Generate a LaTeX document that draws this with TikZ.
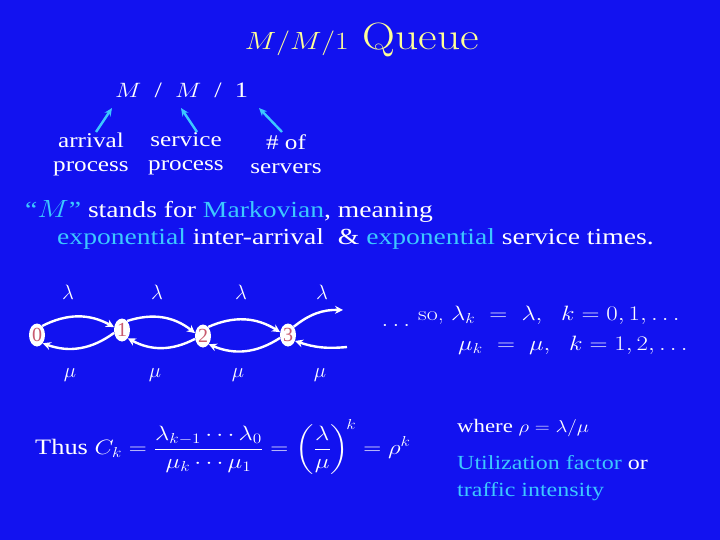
\documentclass[tikz,border=0pt]{standalone}
\usepackage{amsmath}
\usepackage{graphicx}
\usepackage{fontspec}
\setmainfont{Liberation Serif}
\newfontfamily\lmfont{Latin Modern Roman}
\newcommand\sx[1]{\scalebox{1.2}[1]{#1}}
\usetikzlibrary{shapes.geometric,arrows.meta}
\definecolor{bg}{RGB}{18,18,240}
\definecolor{cy}{RGB}{60,200,255}
\definecolor{ttl}{RGB}{255,255,150}
\definecolor{st}{RGB}{200,90,110}
\begin{document}
\begin{tikzpicture}[x=1pt,y=-1pt,
  txt/.style={text=white,inner sep=0pt},
  state/.style={ellipse,fill=white,text=st,minimum width=16pt,minimum height=23pt,inner sep=0pt,font=\fontsize{20}{20}\selectfont},
  tr/.style={white,line width=2.4pt,-{Stealth[length=8pt,width=8pt]}},
  ca/.style={cy,line width=2.4pt,-{Stealth[length=8pt,width=7pt]}}]
\fill[bg] (0,0) rectangle (720,540);
\useasboundingbox (0,0) rectangle (720,540);
\node[txt,text=ttl,font=\lmfont\fontsize{38}{38}\selectfont] (title) at (362,40) {\sx{$M/M/1$ Queue}};
\node[txt,font=\fontsize{22}{22}\selectfont,anchor=west] (mm1) at (115,90) {\sx{$M$\enspace/\enspace$M$\enspace/\enspace1}};
\coordinate (m1) at (112,108); \coordinate (m2) at (181,108); \coordinate (m3) at (259,108);
\node[txt,font=\fontsize{21}{24}\selectfont,align=center] (arr) at (91,154) {\sx{arrival}\\\sx{process}};
\node[txt,font=\fontsize{21}{24}\selectfont,align=center] (srv) at (186,154) {\sx{service}\\\sx{process}};
\node[txt,font=\fontsize{21}{24}\selectfont,align=center] (nsv) at (286,154) {\sx{\# of}\\\sx{servers}};
\draw[ca] (96,132) -- (m1);
\draw[ca] (197,132) -- (m2);
\draw[ca] (282,132) -- (m3);
\node[txt,anchor=west,font=\fontsize{23}{23}\selectfont] (l1) at (25,211) {\sx{\textcolor{cy}{“$M$”} stands for \textcolor{cy}{Markovian}, meaning}};
\node[txt,anchor=west,font=\fontsize{23}{23}\selectfont] (l2) at (57,239) {\sx{\textcolor{cy}{exponential} inter-arrival\ \ \& \textcolor{cy}{exponential} service times.}};
\node[state] (s0) at (37,335) {0};
\node[state] (s1) at (122,330) {1};
\node[state] (s2) at (203,336) {2};
\node[state] (s3) at (288,335) {3};
\coordinate (e1) at (343,310); \coordinate (e2) at (347,347);
\draw[tr] (s0.60) to[bend left=28] (s1.160);
\draw[tr] (s1.-160) to[bend left=28] (s0.-55);
\draw[tr] (s1.60) to[bend left=28] (s2.160);
\draw[tr] (s2.-160) to[bend left=28] (s1.-55);
\draw[tr] (s2.60) to[bend left=28] (s3.160);
\draw[tr] (s3.-160) to[bend left=28] (s2.-55);
\draw[tr] (s3.55) to[bend left=20] (e1);
\draw[tr] (e2) to[bend left=12] (s3.-40);
\foreach \x/\n in {68/a,157/b,241/c,322/d}{\node[txt,font=\fontsize{22}{22}\selectfont] (lam\n) at (\x,292) {$\lambda$};}
\foreach \x/\n in {70/a,155/b,238/c,320/d}{\node[txt,font=\fontsize{22}{22}\selectfont] (mu\n) at (\x,375) {$\mu$};}
\node[txt,font=\fontsize{22}{22}\selectfont] (dots) at (398,325) {\sx{$\dots$}};
\node[txt,anchor=west,font=\lmfont\fontsize{20}{20}\selectfont] (so1) at (418,315) {\sx{so, $\lambda_k\ =\ \lambda,\ \ k = 0,1,\ldots$}};
\node[txt,anchor=west,font=\lmfont\fontsize{20}{20}\selectfont] (so2) at (458,345) {\sx{$\mu_k\ =\ \mu,\ \ k = 1,2,\ldots$}};
\node[txt,anchor=west,font=\fontsize{22}{22}\selectfont] (thus) at (35,447) {\sx{Thus $C_k = \dfrac{\lambda_{k-1}\cdots\lambda_0}{\mu_k\cdots\mu_1} = \left(\dfrac{\lambda}{\mu}\right)^{\!k} = \rho^k$}};
\node[txt,anchor=west,font=\fontsize{19}{19}\selectfont] (wh) at (457,428) {\sx{where $\rho = \lambda/\mu$}};
\node[txt,anchor=west,font=\fontsize{20}{20}\selectfont] (ut) at (457,463) {\sx{\textcolor{cy}{Utilization factor} or}};
\node[txt,anchor=west,font=\fontsize{20}{20}\selectfont,text=cy] (tf) at (457,492) {\sx{traffic intensity}};
\end{tikzpicture}
\end{document}
